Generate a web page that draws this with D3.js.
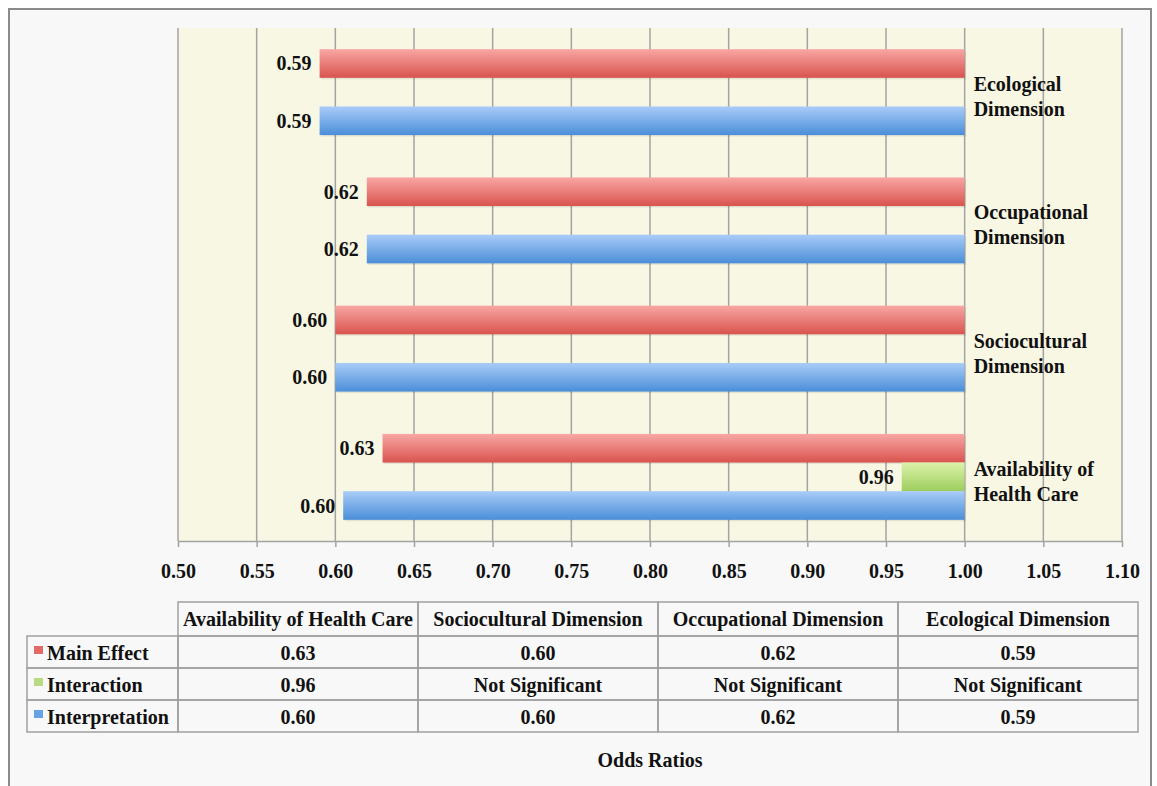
<!DOCTYPE html>
<html>
<head>
<meta charset="utf-8">
<script src="https://cdn.jsdelivr.net/npm/d3@7"></script>
<style>
  html, body { margin: 0; padding: 0; background: #ffffff; }
  svg { display: block; }
  text { font-family: "Liberation Serif", "Times New Roman", serif; font-weight: bold; fill: #111; }
</style>
</head>
<body>
<script>
// ---------------- data ----------------
const categories = ["Availability of Health Care", "Sociocultural Dimension", "Occupational Dimension", "Ecological Dimension"];
const categoryLines = [["Availability of", "Health Care"], ["Sociocultural", "Dimension"], ["Occupational", "Dimension"], ["Ecological", "Dimension"]];
const seriesNames = ["Main Effect", "Interaction", "Interpretation"];
const mainEffect = [0.63, 0.60, 0.62, 0.59];
const interaction = [0.96, null, null, null];
const interpretation = [0.605, 0.60, 0.62, 0.59];
const mainEffectLabels = ["0.63", "0.60", "0.62", "0.59"];
const interactionLabels = ["0.96", "Not Significant", "Not Significant", "Not Significant"];
const interpretationLabels = ["0.60", "0.60", "0.62", "0.59"];
const tickValues = [0.50, 0.55, 0.60, 0.65, 0.70, 0.75, 0.80, 0.85, 0.90, 0.95, 1.00, 1.05, 1.10];
const tickLabels = ["0.50", "0.55", "0.60", "0.65", "0.70", "0.75", "0.80", "0.85", "0.90", "0.95", "1.00", "1.05", "1.10"];
const baseline = 1.0;
const xTitle = "Odds Ratios";

// ---------------- layout ----------------
const W = 1157, H = 786;
const plot = { left: 178, right: 1122, top: 28, bottom: 541 };
const table = { left: 27, colStart: 178, right: 1138, top: 602, headerH: 34, rowH: 32 };
const FS = 20;

const series = [
  { name: seriesNames[0], values: mainEffect, labels: mainEffectLabels, grad: "gRed", swatch: "#e46a68" },
  { name: seriesNames[1], values: interaction, labels: interactionLabels, grad: "gGreen", swatch: "#b9dc82" },
  { name: seriesNames[2], values: interpretation, labels: interpretationLabels, grad: "gBlue", swatch: "#66a3e6" }
];

const svg = d3.select("body").append("svg").attr("width", W).attr("height", H);
const defs = svg.append("defs");
function grad(id, top, bottom) {
  const g = defs.append("linearGradient").attr("id", id).attr("x1", 0).attr("y1", 0).attr("x2", 0).attr("y2", 1);
  g.append("stop").attr("offset", "0%").attr("stop-color", top);
  g.append("stop").attr("offset", "100%").attr("stop-color", bottom);
}
grad("gRed", "#f8a7a4", "#d9534e");
grad("gGreen", "#dcf3aa", "#9dcd5e");
grad("gBlue", "#a9ccf8", "#4a8ed8");

// frame
svg.append("rect").attr("x", 9).attr("y", 9).attr("width", 1142).attr("height", 790)
  .attr("fill", "#f8f8f8").attr("stroke", "#8a8a8a").attr("stroke-width", 2);

// scales
const x = d3.scaleLinear().domain([tickValues[0], tickValues[tickValues.length - 1]]).range([plot.left, plot.right]);
const y = d3.scaleBand().domain(categories.slice().reverse()).range([plot.top, plot.bottom])
  .paddingInner(0.33).paddingOuter(0.165);
const ys = d3.scaleBand().domain(seriesNames).range([0, y.bandwidth()]);

// plot background
svg.append("rect").attr("x", plot.left).attr("y", plot.top)
  .attr("width", plot.right - plot.left).attr("height", plot.bottom - plot.top)
  .attr("fill", "#f8f7e4");

// gridlines
svg.append("g").selectAll("line").data(tickValues).join("line")
  .attr("x1", d => x(d)).attr("x2", d => x(d))
  .attr("y1", plot.top).attr("y2", plot.bottom)
  .attr("stroke", "#a3a3a3").attr("stroke-width", 1.5);

// axis
const axis = d3.axisBottom(x).tickValues(tickValues).tickFormat((d, i) => tickLabels[i])
  .tickSize(6).tickPadding(17).tickSizeOuter(0);
const ax = svg.append("g").attr("transform", `translate(0,${plot.bottom})`).call(axis);
ax.select(".domain").attr("stroke", "#a3a3a3").attr("stroke-width", 1.5);
ax.selectAll(".tick line").attr("stroke", "#a3a3a3").attr("stroke-width", 1.5);
ax.selectAll(".tick text").style("font-family", "Liberation Serif, serif").style("font-weight", "bold")
  .style("font-size", FS + "px").attr("fill", "#111");

// bars
const barG = svg.append("g");
series.forEach(s => {
  categories.forEach((c, i) => {
    const v = s.values[i];
    if (v === null) return;
    const y0 = y(c) + ys(s.name);
    const h = ys.bandwidth();
    barG.append("rect").attr("x", x(v) + 1.5).attr("y", y0 + 1.5)
      .attr("width", x(baseline) - x(v)).attr("height", h)
      .attr("fill", "#000").attr("opacity", 0.08);
    barG.append("rect").attr("x", x(v)).attr("y", y0)
      .attr("width", x(baseline) - x(v)).attr("height", h)
      .attr("fill", `url(#${s.grad})`);
    barG.append("text").attr("x", x(v) - 8).attr("y", y0 + h / 2).attr("dy", "0.35em")
      .attr("text-anchor", "end").style("font-size", FS + "px").text(s.labels[i]);
  });
});

// category labels
categories.forEach((c, i) => {
  const cy = y(c) + y.bandwidth() / 2;
  const t = svg.append("text").attr("x", x(baseline) + 9).attr("y", cy - 1).style("font-size", FS + "px");
  categoryLines[i].forEach((ln, k) => {
    t.append("tspan").attr("x", x(baseline) + 9).attr("dy", k === 0 ? 0 : 25).text(ln);
  });
});

// table
const colW = (table.right - table.colStart) / categories.length;
const tg = svg.append("g");
const lineStyle = sel => sel.attr("stroke", "#a0a0a0").attr("stroke-width", 1.5).attr("fill", "none");
// header cells
categories.forEach((c, i) => {
  const cx = table.colStart + i * colW;
  tg.append("rect").attr("x", cx).attr("y", table.top).attr("width", colW).attr("height", table.headerH).call(lineStyle);
  tg.append("text").attr("x", cx + colW / 2).attr("y", table.top + table.headerH / 2 + 7)
    .attr("text-anchor", "middle").style("font-size", FS + "px").text(c);
});
series.forEach((s, r) => {
  const ry = table.top + table.headerH + r * table.rowH;
  tg.append("rect").attr("x", table.left).attr("y", ry).attr("width", table.colStart - table.left).attr("height", table.rowH).call(lineStyle);
  tg.append("rect").attr("x", table.left + 7).attr("y", ry + 10).attr("width", 9).attr("height", 8).attr("fill", s.swatch);
  tg.append("text").attr("x", table.left + 20).attr("y", ry + table.rowH / 2 + 8)
    .style("font-size", FS + "px").text(s.name);
  categories.forEach((c, i) => {
    const cx = table.colStart + i * colW;
    tg.append("rect").attr("x", cx).attr("y", ry).attr("width", colW).attr("height", table.rowH).call(lineStyle);
    tg.append("text").attr("x", cx + colW / 2).attr("y", ry + table.rowH / 2 + 8)
      .attr("text-anchor", "middle").style("font-size", FS + "px").text(s.labels[i]);
  });
});

// x title
svg.append("text").attr("x", 650).attr("y", 767).attr("text-anchor", "middle")
  .style("font-size", FS + "px").text(xTitle);
</script>
</body>
</html>
